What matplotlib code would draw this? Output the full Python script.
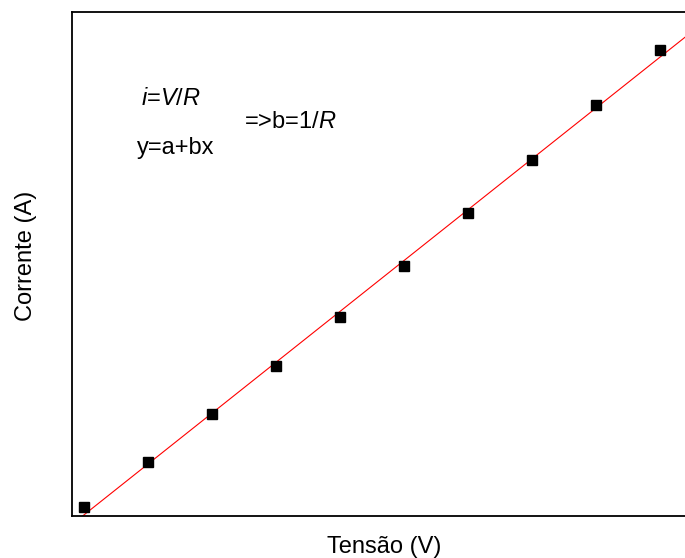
import matplotlib

matplotlib.use("Agg")
import matplotlib.pyplot as plt
import numpy as np

# tensão (V) e corrente (A)
tensao = np.array([1, 2, 3, 4, 5, 6, 7, 8, 9, 10])
corrente = np.array([0.18, 1.08, 2.04, 3.00, 3.98, 5.00, 6.06, 7.12, 8.22, 9.32])

plt.rcParams["font.family"] = ["Liberation Sans", "DejaVu Sans"]
plt.rcParams["mathtext.fontset"] = "custom"
plt.rcParams["mathtext.rm"] = "Liberation Sans"
plt.rcParams["mathtext.it"] = "Liberation Sans:italic"

fig = plt.figure(figsize=(6.85, 5.58), dpi=100)
ax = fig.add_axes([72 / 685, 42 / 558, 613 / 685, 504 / 558])

b, a = np.polyfit(tensao, corrente, 1)
xlim = (1 - 12 / 64, 1 + 601 / 64)
xs = np.array(xlim)
ax.plot(xs, a + b * xs, color="red", lw=0.8, zorder=2)
ax.plot(tensao, corrente, "s", color="black", ms=7, zorder=3)

ax.set_xlim(*xlim)
ax.set_ylim(0, 10.08)
ax.set_xticks([])
ax.set_yticks([])
for s in ax.spines.values():
    s.set_linewidth(1.3)
ax.spines["right"].set_visible(False)

fs = 17
ax.set_xlabel("Tensão (V)", fontsize=fs, va="center")
ax.xaxis.set_label_coords(0.509, -0.061)
ax.set_ylabel("Corrente (A)", fontsize=fs, va="center")
ax.yaxis.set_label_coords(-0.075, 0.516)

ax.text(0.113, 0.815, r"$i$=$V$/$R$", transform=ax.transAxes, fontsize=fs, va="baseline")
ax.text(0.280, 0.770, r"=>b=1/$R$", transform=ax.transAxes, fontsize=fs, va="baseline")
ax.text(0.106, 0.718, "y=a+bx", transform=ax.transAxes, fontsize=fs, va="baseline")

fig.savefig("out.png", dpi=100)
